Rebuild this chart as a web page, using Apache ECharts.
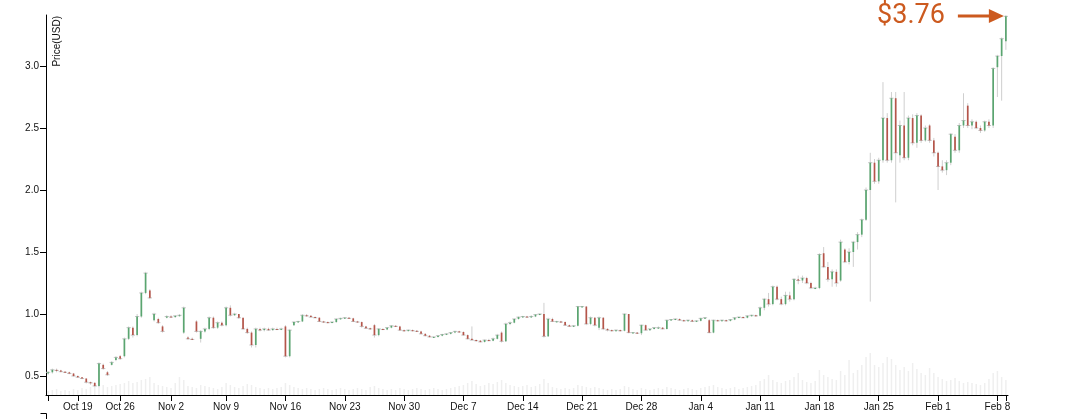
<!DOCTYPE html>
<html>
<head>
<meta charset="utf-8">
<script src="https://cdn.jsdelivr.net/npm/echarts@6/dist/echarts.min.js"></script>
<style>
html,body{margin:0;padding:0;background:#fff;}
#chart{width:1076px;height:419px;}
</style>
</head>
<body>
<div id="chart"></div>
<script>
// ---- data (12-hour candles, USD) ----
const tickLabels = ["Oct 19","Oct 26","Nov 2","Nov 9","Nov 16","Nov 23","Nov 30","Dec 7","Dec 14","Dec 21","Dec 28","Jan 4","Jan 11","Jan 18","Jan 25","Feb 1","Feb 8"];
// half-day slots with no trading data
const missingSlots = ["2020-10-20 12","2020-10-21 12","2020-10-23 00","2020-10-24 12","2020-10-27 12","2020-10-30 00","2020-11-04 00"];
const firstSlot = "2020-10-15 12";
const lastSlot = "2021-02-09 00";

const openP = [
.52,.53,.55,.545,.535,.53,.52,
.50,.49,.48,.45,.445,.42,.59,.53,.59,.63,
.66,.66,.80,.89,.83,.98,1.17,1.19,.95,.96,.90,.97,
.98,.975,.985,.85,.81,.80,.94,.80,.86,.88,.97,.89,.93,
.91,1.05,.99,1.0,.97,.88,.85,.75,.88,.87,.88,.87,.88,.875,
.90,.66,.91,.935,.94,.99,.985,.975,.97,.94,.935,.93,.935,.96,
.965,.97,.965,.94,.935,.90,.885,.91,.83,.88,.875,.89,.905,.90,
.87,.865,.87,.865,.86,.84,.825,.815,.815,.825,.835,.84,.85,.86,
.855,.83,.80,.79,.785,.775,.79,.785,.80,.85,.78,.92,.93,.96,
.975,.98,.975,.98,.995,1.0,.82,.96,.94,.94,.935,.91,.90,.905,
1.06,1.06,.92,.97,.89,.97,.88,.87,.865,.87,.865,1.0,.85,.85,
.845,.91,.87,.88,.89,.89,.88,.95,.955,.96,.95,.945,.95,.94,
.945,.965,.95,.85,.95,.945,.95,.945,.955,.97,.975,.97,.985,.99,
.985,1.05,1.12,1.08,1.22,1.12,1.08,1.15,1.12,1.28,1.27,1.29,1.25,1.21,
1.21,1.49,1.38,1.28,1.34,1.27,1.52,1.42,1.50,1.58,1.64,1.76,2.00,2.22,
2.07,2.24,2.58,2.24,2.74,2.28,2.52,2.26,2.58,2.38,2.60,2.40,2.52,2.40,
2.30,2.19,2.16,2.22,2.43,2.32,2.52,2.68,2.52,2.55,2.50,2.48,2.55,2.52,2.99,3.08,3.20
];
const closeP = [
.53,.55,.545,.535,.53,.52,.50,
.49,.48,.45,.445,.42,.60,.56,.51,.61,.65,
.64,.80,.89,.83,.98,1.17,1.33,1.13,1.00,.93,.86,.98,
.975,.985,.99,1.05,.80,.795,.86,.86,.88,.97,.89,.93,.91,
1.05,.99,1.0,.97,.88,.85,.75,.88,.87,.88,.87,.88,.875,.88,
.66,.87,.935,.94,.99,.985,.975,.97,.94,.935,.93,.935,.96,.965,
.97,.965,.94,.935,.90,.885,.88,.83,.88,.875,.89,.905,.90,.87,
.865,.87,.865,.86,.84,.825,.815,.815,.825,.835,.84,.85,.86,.855,
.83,.80,.79,.785,.775,.79,.785,.80,.83,.78,.92,.93,.96,.975,
.98,.975,.98,.995,1.0,.82,.96,.94,.94,.935,.91,.90,.905,1.06,
1.06,.92,.97,.91,.97,.88,.87,.865,.87,.865,1.0,.85,.85,.845,
.91,.87,.88,.89,.89,.88,.95,.955,.96,.95,.945,.95,.94,.945,
.965,.97,.85,.95,.945,.95,.945,.955,.97,.975,.97,.985,.99,.985,
1.05,1.12,1.08,1.22,1.12,1.08,1.15,1.12,1.28,1.27,1.29,1.25,1.21,1.21,
1.48,1.38,1.28,1.34,1.25,1.58,1.42,1.50,1.58,1.64,1.76,2.00,2.22,2.07,
2.24,2.58,2.24,2.74,2.30,2.52,2.26,2.58,2.38,2.60,2.40,2.50,2.40,2.30,
2.19,2.16,2.22,2.45,2.32,2.52,2.56,2.52,2.55,2.50,2.48,2.55,2.52,2.98,3.08,3.22,3.40
];
const lowP = [
.51,.52,.53,.53,.525,.515,.495,
.485,.475,.44,.43,.41,.41,.55,.50,.585,.62,
.63,.65,.79,.81,.82,.97,1.16,1.12,.94,.92,.85,.965,
.97,.97,.98,.84,.79,.79,.85,.77,.85,.87,.88,.88,.90,
.90,.98,.985,.96,.87,.84,.73,.73,.86,.86,.865,.865,.87,.87,
.65,.65,.905,.93,.935,.98,.97,.965,.935,.93,.925,.925,.93,.955,
.96,.96,.935,.93,.89,.88,.875,.81,.82,.87,.87,.885,.895,.865,
.86,.86,.86,.855,.835,.82,.81,.81,.81,.82,.83,.835,.845,.85,
.825,.795,.785,.775,.77,.77,.78,.78,.795,.77,.775,.91,.925,.955,
.97,.97,.97,.975,.99,.81,.815,.935,.935,.93,.905,.895,.895,.90,
1.055,.91,.91,.90,.87,.87,.86,.86,.86,.86,.86,.845,.845,.84,
.83,.865,.865,.875,.88,.875,.875,.945,.95,.945,.94,.94,.935,.935,
.94,.96,.845,.845,.94,.94,.94,.94,.95,.965,.965,.965,.98,.98,
.98,1.03,1.06,1.07,1.11,1.07,1.07,1.10,1.11,1.24,1.25,1.24,1.20,1.20,
1.20,1.37,1.26,1.22,1.22,1.26,1.41,1.40,1.38,1.52,1.62,1.75,1.10,2.05,
2.05,2.22,2.22,2.22,1.90,2.22,2.24,2.24,2.36,2.34,2.38,2.39,2.38,2.27,
2.00,2.14,2.12,2.20,2.30,2.30,2.50,2.50,2.49,2.49,2.46,2.47,2.50,2.50,2.75,2.72,3.13
];
const highP = [
.54,.56,.56,.55,.54,.535,.525,
.505,.49,.48,.455,.45,.61,.60,.54,.62,.66,
.67,.81,.90,.90,1.0,1.18,1.34,1.20,1.01,.97,.91,.99,
.99,.99,1.0,1.06,.82,.81,.95,.87,.89,.98,.98,.94,.94,
1.06,1.07,1.01,1.0,.97,.89,.86,.89,.89,.89,.89,.89,.89,.89,
.91,.88,.94,.945,1.0,1.0,.99,.98,.975,.945,.94,.94,.965,.97,
.975,.975,.97,.945,.94,.905,.89,.92,.885,.885,.895,.91,.91,.905,
.875,.875,.875,.87,.865,.845,.83,.82,.83,.84,.845,.855,.865,.865,
.86,.835,.90,.795,.79,.795,.80,.81,.84,.86,.93,.94,.965,.98,
.985,.985,.99,1.0,1.005,1.09,.97,.97,.945,.945,.94,.915,.91,1.065,
1.065,1.065,.98,.975,.98,.975,.885,.875,.875,.875,1.005,1.0,.855,.855,
.915,.915,.885,.895,.90,.895,.955,.96,.965,.965,.955,.955,.955,.95,
.97,.975,.96,.955,.955,.955,.955,.96,.975,.98,.98,.99,.995,.995,
1.06,1.13,1.17,1.23,1.23,1.14,1.18,1.18,1.29,1.31,1.31,1.30,1.26,1.22,
1.49,1.54,1.42,1.36,1.36,1.60,1.53,1.53,1.59,1.66,1.77,2.02,2.30,2.25,
2.26,2.87,2.62,2.79,2.79,2.56,2.79,2.60,2.61,2.62,2.61,2.52,2.53,2.42,
2.31,2.24,2.24,2.46,2.45,2.54,2.78,2.70,2.57,2.56,2.52,2.56,2.57,2.99,3.09,3.23,3.41
];
// traded volume (relative units)
const volume = [
4,5,6,4,5,4,6,
5,7,6,8,9,14,10,8,9,10,
11,12,14,12,13,15,16,18,12,10,9,8,
7,12,18,15,9,8,7,10,9,8,7,6,8,
12,10,8,7,9,11,10,8,7,6,7,6,7,8,
12,10,8,7,6,7,6,5,6,7,6,5,6,7,
6,5,6,7,6,5,8,9,7,6,5,6,5,7,
6,5,6,7,6,5,6,7,6,5,6,7,8,9,
10,12,14,11,9,10,12,11,13,15,12,10,9,8,
9,10,8,9,11,16,12,8,7,6,7,6,7,10,
9,8,7,8,7,6,5,6,5,6,9,8,6,5,
7,6,5,6,7,6,8,7,6,5,6,7,6,5,
7,8,9,10,8,7,6,7,8,6,7,8,9,10,
14,16,20,15,13,12,14,15,18,22,15,13,12,14,
25,20,18,16,15,24,20,35,22,25,30,38,42,30,
28,32,38,36,30,25,28,24,32,26,22,20,27,22,
18,16,14,15,17,14,12,13,12,11,10,12,16,22,24,18,15
];
const annotationText = "$3.76";

// ---- build categories (12h slots) ----
const MONTHS = ["Jan","Feb","Mar","Apr","May","Jun","Jul","Aug","Sep","Oct","Nov","Dec"];
function pad(n){return (n<10?'0':'')+n;}
function slotKey(t){const d=new Date(t);return d.getUTCFullYear()+'-'+pad(d.getUTCMonth()+1)+'-'+pad(d.getUTCDate())+' '+pad(d.getUTCHours());}
function parseKey(k){const [dp,hp]=k.split(' ');const [y,m,d]=dp.split('-').map(Number);return Date.UTC(y,m-1,d,Number(hp));}
const categories = [];
for (let t=parseKey(firstSlot); t<=parseKey(lastSlot); t+=12*3600*1000){
  const k = slotKey(t);
  if (missingSlots.indexOf(k) < 0) categories.push(k);
}
function labelOf(k){const [y,m,d]=k.split(' ')[0].split('-').map(Number);return MONTHS[m-1]+' '+d;}
const labelIdx = new Set();
categories.forEach((k,i)=>{ if (k.endsWith(' 00') && tickLabels.indexOf(labelOf(k))>=0) labelIdx.add(i); });
const N = categories.length;

const candleData = categories.map((k,i)=>[i, openP[i], closeP[i], lowP[i], highP[i]]);

const UP = '#5aa570', DOWN = '#b5554a', WICK = '#cfcfcf';
const FONT = 'Liberation Sans, Arial, sans-serif';

const chart = echarts.init(document.getElementById('chart'));
chart.setOption({
  animation:false,
  backgroundColor:'#fff',
  grid:{left:46,right:68,top:15,bottom:24,containLabel:false},
  xAxis:{
    type:'category', data:categories, boundaryGap:true,
    axisLine:{show:true,lineStyle:{color:'#000',width:1}},
    axisTick:{show:true,alignWithLabel:true,length:6,lineStyle:{color:'#000'},
      interval:(i)=>labelIdx.has(i)||i===0||i===N-1},
    axisLabel:{interval:(i)=>labelIdx.has(i), formatter:(v)=>labelOf(v),
      color:'#111', fontSize:10, fontFamily:FONT, margin:7},
    splitLine:{show:false}
  },
  yAxis:[{
    type:'value', min:0.347, max:3.411, scale:true,
    axisLine:{show:true,lineStyle:{color:'#000',width:1}},
    axisTick:{show:true,length:6,lineStyle:{color:'#000'}},
    axisLabel:{color:'#111',fontSize:10,fontFamily:FONT,margin:7,
      showMinLabel:false,showMaxLabel:false,
      formatter:(v)=>{const r=Math.round(v*2)/2;return Math.abs(r-v)<1e-6?v.toFixed(1):'';}},
    splitLine:{show:false}
  },{
    type:'value', min:0, max:380, show:false, splitLine:{show:false}
  }],
  series:[{
    type:'bar', yAxisIndex:1, data:volume, barWidth:'35%',
    itemStyle:{color:'#efefef'}, silent:true, z:1
  },{
    type:'custom', z:5, clip:true,
    data:candleData,
    encode:{x:0,y:[1,2,3,4]},
    renderItem:function(params, api){
      const idx = api.value(0);
      const o = api.value(1), c = api.value(2), l = api.value(3), h = api.value(4);
      const pO = api.coord([idx,o]), pC = api.coord([idx,c]);
      const pL = api.coord([idx,l]), pH = api.coord([idx,h]);
      const w = api.size([1,0])[0];
      const bw = Math.max(1.2, w*0.4);
      const color = c >= o ? UP : DOWN;
      const top = Math.min(pO[1],pC[1]), bot = Math.max(pO[1],pC[1]);
      return {type:'group', children:[
        {type:'line', shape:{x1:pL[0],y1:pL[1],x2:pH[0],y2:pH[1]}, style:{stroke:WICK,lineWidth:1}},
        {type:'line', shape:{x1:pC[0]-w/2,y1:pC[1],x2:pC[0]+w/2,y2:pC[1]}, style:{stroke:'#c4c4c4',lineWidth:1}},
        {type:'rect', shape:{x:pO[0]-bw/2,y:top,width:bw,height:Math.max(1,bot-top)}, style:{fill:color}}
      ]};
    }
  }]
});

// annotation pointing to the latest candle
const lastIdx = N-1;
const p = chart.convertToPixel({xAxisIndex:0,yAxisIndex:0},[lastIdx, highP[lastIdx]]);
const tipX = p[0]-2, ay = p[1]+1;
const ORANGE = '#cc5a1f';
chart.setOption({
  graphic:[
    {type:'text', x:52, y:16, rotation:Math.PI/2,
      style:{text:'Price(USD)', fill:'#111', font:'10px '+FONT, align:'right', verticalAlign:'top'}},
    {type:'line', shape:{x1:40.5,y1:413.5,x2:46.5,y2:413.5}, style:{stroke:'#000',lineWidth:1}},
    {type:'line', shape:{x1:46.5,y1:413.5,x2:46.5,y2:420}, style:{stroke:'#000',lineWidth:1}},
    {type:'line', shape:{x1:tipX-46,y1:ay,x2:tipX-12,y2:ay}, style:{stroke:ORANGE,lineWidth:3}, z:10},
    {type:'polygon', shape:{points:[[tipX,ay],[tipX-15,ay-7],[tipX-15,ay+7]]}, style:{fill:ORANGE}, z:10},
    {type:'text', x:tipX-59, y:ay, z:10,
      style:{text:annotationText, fill:ORANGE, font:'27px Roboto, '+FONT, align:'right', verticalAlign:'middle'}}
  ]
});
</script>
</body>
</html>
